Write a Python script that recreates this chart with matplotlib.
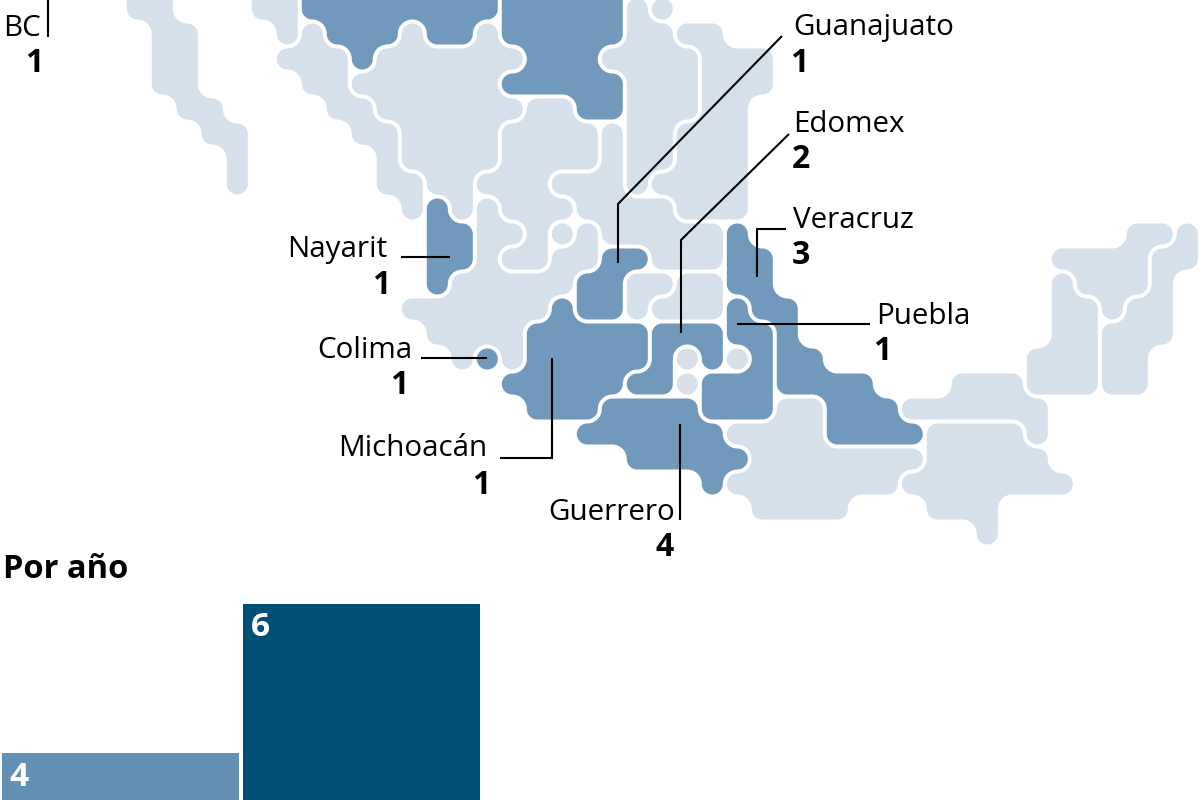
import matplotlib
matplotlib.use("Agg")
import matplotlib.pyplot as plt
from matplotlib.path import Path
from matplotlib.patches import PathPatch

plt.rcParams["font.family"] = ["Open Sans", "DejaVu Sans"]

# Celdas de cada estado: fila -> columnas de la retícula
sonora = {-1: [10, 11], 0: [10, 11], 1: [11]}
bcs = {-1: [5, 6], 0: [5, 6], 1: [6, 7], 2: [6, 7], 3: [6, 7], 4: [7, 8], 5: [8, 9], 6: [9], 7: [9]}
chihuahua = {-1: list(range(12, 20)), 0: list(range(12, 20)), 1: [13, 14, 15, 17, 18], 2: [14]}
coahuila = {-1: [20, 21, 22, 23, 24], 0: [20, 21, 22, 23, 24], 1: [20, 21, 22, 23, 24], 2: [21, 22, 23],
            3: [20, 21, 22, 23, 24], 4: [23, 24]}
sinaloa = {1: [12], 2: [11, 12, 13], 3: [12, 13], 4: [13, 14], 5: [14, 15], 6: [15], 7: [15, 16], 8: [16]}
durango = {1: [16, 19], 2: [15, 16, 17, 18, 19, 20], 3: [14, 15, 16, 17, 18, 19], 4: [15, 16, 17, 18, 19, 20],
           5: [16, 17, 18, 19], 6: [16, 17, 18, 19], 7: [17, 18], 8: [18]}
nuevo_leon = {0: [25], 1: [25, 26], 2: [24, 25, 26, 27], 3: [25, 26, 27], 4: [25, 26, 27], 5: [25, 26],
              6: [25, 26], 7: [25]}
tamaulipas = {0: [26], 1: [27, 28], 2: [28, 29, 30], 3: [28, 29, 30], 4: [28, 29], 5: [27, 28, 29],
              6: [27, 28, 29], 7: [26, 27, 28, 29], 8: [27, 28, 29]}
zacatecas = {4: [21, 22], 5: [20, 21, 22, 23], 6: [20, 21, 22, 23], 7: [19, 20, 21], 8: [20, 21, 22], 9: [21],
             10: [20, 21]}
slp = {5: [24], 6: [24], 7: [22, 23, 24], 8: [23, 24, 25, 26], 9: [24, 25, 26, 27, 28], 10: [26, 27, 28]}
jalisco = {8: [19], 9: [19, 20, 23], 10: [19, 22, 23], 11: [18, 19, 20, 21, 22], 12: [16, 17, 18, 19, 20, 21],
           13: [17, 18, 19, 20], 14: [18, 20]}
nayarit = {8: [17], 9: [17, 18], 10: [17, 18], 11: [17]}
colima = {14: [19]}
aguascalientes = {9: [22]}
michoacan = {12: [22], 13: [21, 22, 23, 24, 25], 14: [21, 22, 23, 24, 25], 15: [20, 21, 22, 23, 24], 16: [21, 22, 23]}
guanajuato = {10: [24, 25], 11: [23, 24], 12: [23, 24]}
queretaro = {11: [25, 26], 12: [25]}
hidalgo = {11: [27, 28], 12: [26, 27, 28]}
edomex = {13: [26, 27, 28], 14: [26, 28], 15: [25, 26]}
cdmx = {14: [27]}
morelos = {15: [27]}
tlaxcala = {14: [29]}
puebla = {12: [29], 13: [29, 30], 14: [30], 15: [28, 29, 30], 16: [28, 29, 30]}
veracruz = {9: [29], 10: [29, 30], 11: [29, 30], 12: [30, 31], 13: [31], 14: [31, 32], 15: [31, 32, 33, 34],
            16: [33, 34, 35], 17: [33, 34, 35, 36]}
guerrero = {16: [24, 25, 26, 27], 17: [23, 24, 25, 26, 27, 28], 18: [25, 26, 27, 28, 29], 19: [28]}
oaxaca = {16: [31, 32], 17: [29, 30, 31, 32], 18: [30, 31, 32, 33, 34, 35, 36], 19: [29, 30, 31, 32, 33, 34, 35],
          20: [30, 31, 32, 33]}
tabasco = {15: [38, 39, 40], 16: [36, 37, 38, 39, 40, 41], 17: [41]}
chiapas = {17: [37, 38, 39, 40], 18: [37, 38, 39, 40, 41], 19: [36, 37, 38, 39, 40, 41, 42], 20: [37, 38, 39], 21: [39]}
campeche = {11: [42], 12: [42, 43], 13: [42, 43], 14: [41, 42, 43], 15: [41, 42, 43]}
yucatan = {9: [45, 46], 10: [42, 43, 44, 45], 11: [43, 44, 45], 12: [44]}
quintana_roo = {9: [47], 10: [46, 47], 11: [46], 12: [45, 46], 13: [44, 45, 46], 14: [44, 45], 15: [44, 45]}

con_casos = [chihuahua, coahuila, nayarit, colima, michoacan, guanajuato, edomex, puebla, veracruz, guerrero]
sin_casos = [sonora, bcs, sinaloa, durango, nuevo_leon, tamaulipas, zacatecas, slp, jalisco, queretaro, hidalgo,
             oaxaca, tabasco, chiapas, campeche, yucatan, quintana_roo, aguascalientes]
chicos = [cdmx, morelos, tlaxcala]

# Etiquetas del mapa
etiquetas = ["BC", "Guanajuato", "Edomex", "Veracruz", "Puebla", "Nayarit", "Colima", "Michoacán", "Guerrero"]
casos = [1, 1, 2, 3, 1, 1, 1, 1, 4]
pos_nombre = [(41, 28, "right"), (793, 28, "left"), (793, 124, "left"), (793, 220, "left"), (876, 316, "left"),
              (387, 249, "right"), (412, 350, "right"), (487, 449, "right"), (675, 512, "right")]
pos_numero = [(34, 63), (799, 63), (801, 159), (801, 255), (882, 351), (381, 285), (399, 385), (481, 485), (665, 548)]
lineas = [[(48, -2), (48, 37)],
          [(618, 263), (618, 204), (782, 36)],
          [(681, 333), (681, 240), (789, 134)],
          [(757, 277), (757, 229), (786, 229)],
          [(737, 324), (870, 324)],
          [(401, 257), (450, 257)],
          [(421, 358), (487, 358)],
          [(552, 358), (552, 458), (500, 458)],
          [(680, 424), (680, 520)]]

# Gráfica por año
casos_por_anio = [4, 6]
colores_anio = ["#6490b3", "#004f75"]

PASO = 25
X0, Y0 = -0.2, -3.5
HUECO = 2
R_CONVEXO = 10.5
R_CONCAVO = 14.5
KAPPA = 0.5523


def contornos(estado):
    celdas = {(c, f) for f, cols in estado.items() for c in cols}
    salida = {}
    for c, f in celdas:
        bordes = []
        if (c, f - 1) not in celdas:
            bordes.append(((c, f), (c + 1, f)))
        if (c + 1, f) not in celdas:
            bordes.append(((c + 1, f), (c + 1, f + 1)))
        if (c, f + 1) not in celdas:
            bordes.append(((c + 1, f + 1), (c, f + 1)))
        if (c - 1, f) not in celdas:
            bordes.append(((c, f + 1), (c, f)))
        for a, b in bordes:
            salida.setdefault(a, []).append(b)

    lazos = []
    while salida:
        inicio = next(iter(salida))
        actual = salida[inicio].pop()
        if not salida[inicio]:
            del salida[inicio]
        lazo = [inicio, actual]
        while actual != inicio:
            d = (lazo[-1][0] - lazo[-2][0], lazo[-1][1] - lazo[-2][1])
            opciones = salida[actual]
            der = (actual[0] - d[1], actual[1] + d[0])
            sig = der if der in opciones else opciones[0]
            opciones.remove(sig)
            if not opciones:
                del salida[actual]
            lazo.append(sig)
            actual = sig
        lazos.append(lazo[:-1])
    return lazos


def camino(estado):
    verts, codes = [], []
    for lazo in contornos(estado):
        # quitar puntos colineales
        n = len(lazo)
        esq = []
        for i in range(n):
            p, q, s = lazo[i - 1], lazo[i], lazo[(i + 1) % n]
            if (q[0] - p[0], q[1] - p[1]) != (s[0] - q[0], s[1] - q[1]):
                esq.append(q)
        n = len(esq)
        puntos = []
        for i in range(n):
            p, q, s = esq[i - 1], esq[i], esq[(i + 1) % n]
            d1 = ((q[0] > p[0]) - (q[0] < p[0]), (q[1] > p[1]) - (q[1] < p[1]))
            d2 = ((s[0] > q[0]) - (s[0] < q[0]), (s[1] > q[1]) - (s[1] < q[1]))
            x = X0 + q[0] * PASO + HUECO * (-d1[1] - d2[1])
            y = Y0 + q[1] * PASO + HUECO * (d1[0] + d2[0])
            convexo = (-d1[1], d1[0]) == d2
            puntos.append((x, y, d1, d2, R_CONVEXO if convexo else R_CONCAVO))
        for i, (x, y, d1, d2, r) in enumerate(puntos):
            a = (x - d1[0] * r, y - d1[1] * r)
            b = (x + d2[0] * r, y + d2[1] * r)
            c1 = (a[0] + d1[0] * r * KAPPA, a[1] + d1[1] * r * KAPPA)
            c2 = (b[0] - d2[0] * r * KAPPA, b[1] - d2[1] * r * KAPPA)
            verts.append(a)
            codes.append(Path.MOVETO if i == 0 else Path.LINETO)
            verts += [c1, c2, b]
            codes += [Path.CURVE4] * 3
        verts.append(verts[-1])
        codes.append(Path.CLOSEPOLY)
    return Path(verts, codes)


fig = plt.figure(figsize=(12, 8), dpi=100, facecolor="white")

# Barras: 74.5 px por caso, base debajo del borde de la figura
ax_bar = fig.add_axes([0, 0, 1, 0.3])
ax_bar.set_xlim(-120.5 / 240.5, (1200 - 120.5) / 240.5)
ax_bar.set_ylim(251 / 74.5, (251 + 240) / 74.5)
ax_bar.bar(range(len(casos_por_anio)), casos_por_anio, width=237 / 240.5, color=colores_anio)
ax_bar.axis("off")

ax = fig.add_axes([0, 0, 1, 1])
ax.set_xlim(0, 1200)
ax.set_ylim(800, 0)
ax.axis("off")
ax.patch.set_alpha(0)

for estado in sin_casos:
    ax.add_patch(PathPatch(camino(estado), facecolor="#d5e0eb", edgecolor="none"))
for estado in chicos:
    ax.add_patch(PathPatch(camino(estado), facecolor="#d9dfe8", edgecolor="none"))
for estado in con_casos:
    ax.add_patch(PathPatch(camino(estado), facecolor="#7099bb", edgecolor="none"))

for linea in lineas:
    ax.plot([p[0] for p in linea], [p[1] for p in linea], color="black", lw=1.5,
            solid_joinstyle="miter", solid_capstyle="butt")

for nombre, valor, (x, y, ha), (xn, yn) in zip(etiquetas, casos, pos_nombre, pos_numero):
    ax.text(x, y, nombre, ha=ha, va="center", fontsize=21.3, color="black")
    ax.text(xn, yn, str(valor), ha="center", va="center", fontsize=23, fontweight="bold", color="black")

ax.text(3, 569, "Por año", ha="left", va="center", fontsize=23.5, fontweight="bold", color="black")
for valor, x, y in zip(casos_por_anio, [19, 260], [777, 628]):
    ax.text(x, y, str(valor), ha="center", va="center", fontsize=24, fontweight="bold", color="white")

fig.savefig("out.png", dpi=100)
